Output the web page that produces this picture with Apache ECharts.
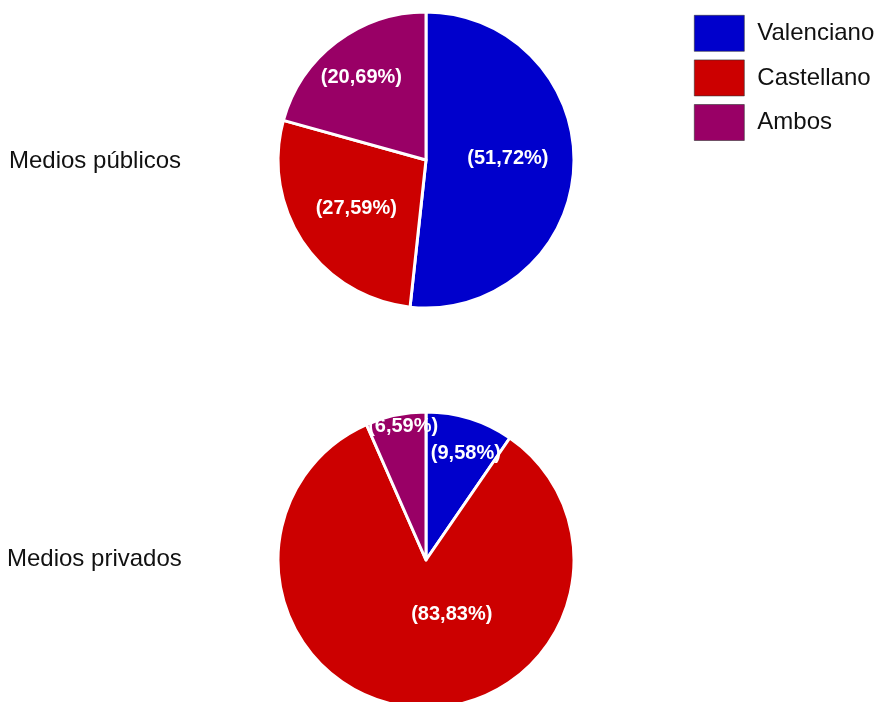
<!DOCTYPE html>
<html>
<head>
<meta charset="utf-8">
<script src="https://cdn.jsdelivr.net/npm/echarts@6/dist/echarts.min.js"></script>
<style>
  html, body { margin: 0; padding: 0; background: #fff; }
  #chart { width: 877px; height: 702px; }
</style>
</head>
<body>
<div id="chart"></div>
<script>
// Language used by media outlets, public vs private
const categories = ['Valenciano', 'Castellano', 'Ambos'];
const groups = ['Medios públicos', 'Medios privados'];
const publicShares = [51.72, 27.59, 20.69];
const privateShares = [9.58, 83.83, 6.59];

const colors = ['#0000CC', '#CC0000', '#990066'];
const FONT = '"Liberation Sans", Arial, sans-serif';

// small nudges to place each percentage label inside its slice
const labelNudges = [
  [[5, -6], [-6, 5], [-18, -21]],
  [[17, -33], [33, -22], [-7, -58]]
];

function buildSeries(values, centerY, nudges) {
  return {
    type: 'pie',
    center: [426, centerY],
    radius: 148,
    startAngle: 90,
    clockwise: true,
    animation: false,
    silent: true,
    itemStyle: { borderColor: '#ffffff', borderWidth: 3 },
    label: {
      show: true,
      position: 'inside',
      color: '#ffffff',
      fontFamily: FONT,
      fontWeight: 'bold',
      fontSize: 20,
      formatter: p => '(' + p.value.toFixed(2).replace('.', ',') + '%)'
    },
    labelLine: { show: false },
    labelLayout: p => ({ dx: nudges[p.dataIndex][0], dy: nudges[p.dataIndex][1] }),
    data: categories.map((name, i) => ({
      name: name,
      value: values[i],
      itemStyle: { color: colors[i] }
    }))
  };
}

const groupTextStyle = { fontFamily: FONT, fontWeight: 'normal', fontSize: 24, color: '#111' };

const chart = echarts.init(document.getElementById('chart'), null, { renderer: 'canvas' });
chart.setOption({
  backgroundColor: '#ffffff',
  animation: false,
  title: [
    { text: groups[0], left: 4, top: 144, textStyle: groupTextStyle },
    { text: groups[1], left: 2, top: 542, textStyle: groupTextStyle }
  ],
  legend: {
    orient: 'vertical',
    left: 689,
    top: 10,
    itemWidth: 50,
    itemHeight: 36,
    itemGap: 8,
    icon: 'rect',
    selectedMode: false,
    itemStyle: { borderWidth: 0.6, borderColor: '#333' },
    textStyle: { fontFamily: FONT, fontSize: 24, color: '#111', padding: [0, 0, 0, 8] },
    data: categories
  },
  series: [
    buildSeries(publicShares, 160, labelNudges[0]),
    buildSeries(privateShares, 560, labelNudges[1])
  ]
});
</script>
</body>
</html>
